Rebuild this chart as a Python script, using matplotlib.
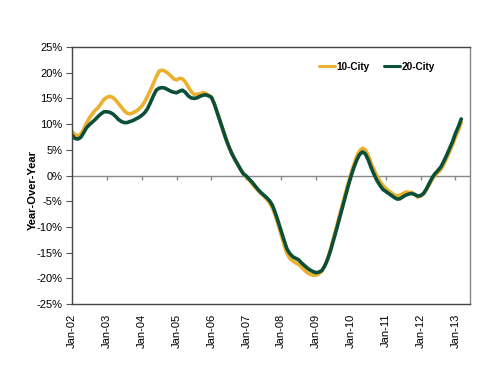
import matplotlib
matplotlib.use("Agg")
import matplotlib.pyplot as plt
import numpy as np

plt.rcParams['font.family'] = ['Liberation Sans', 'DejaVu Sans']

years = ["02", "03", "04", "05", "06", "07", "08", "09", "10", "11", "12", "13"]
tick_labels = ["Jan-" + y for y in years]

# Monthly YoY % change, Jan-2002 .. Mar-2013
city10 = [
    8.5, 8.0, 7.7, 8.0, 9.0, 10.2, 11.2, 12.0, 12.7, 13.2, 14.0, 14.8,
    15.2, 15.4, 15.2, 14.7, 14.0, 13.3, 12.6, 12.1, 12.0, 12.2, 12.5, 12.9,
    13.5, 14.3, 15.4, 16.6, 17.9, 19.2, 20.3, 20.5, 20.3, 19.9, 19.4, 18.8,
    18.6, 18.9, 18.8, 18.2, 17.3, 16.3, 15.8, 15.8, 15.9, 16.1, 16.0, 15.6,
    15.3, 14.0, 12.3, 10.6, 8.9, 7.1, 5.6, 4.3, 3.2, 2.3, 1.2, 0.4,
    -0.3, -0.9, -1.6, -2.3, -2.9, -3.5, -4.0, -4.6, -5.3, -6.3, -7.8, -9.6,
    -11.5, -13.5, -15.2, -16.1, -16.6, -17.0, -17.3, -17.8, -18.4, -18.9, -19.2, -19.4,
    -19.4, -19.1, -18.6, -17.6, -16.1, -14.3, -12.2, -10.1, -7.9, -5.8, -3.7, -1.6,
    0.3, 2.1, 3.7, 4.8, 5.3, 5.0, 3.9, 2.4, 1.1, -0.1, -1.1, -1.9,
    -2.5, -3.0, -3.4, -3.8, -4.0, -3.8, -3.5, -3.2, -3.3, -3.3, -3.7, -4.2,
    -4.0, -3.6, -2.8, -1.8, -0.7, 0.0, 0.6, 1.2, 2.2, 3.4, 4.7, 6.0,
    7.5, 8.8, 10.3,
]
city20 = [
    7.9, 7.2, 7.1, 7.4, 8.3, 9.3, 9.9, 10.4, 10.9, 11.5, 12.0, 12.4,
    12.4, 12.3, 12.0, 11.5, 10.9, 10.5, 10.3, 10.3, 10.5, 10.7, 11.0, 11.3,
    11.7, 12.2, 13.0, 14.2, 15.5, 16.6, 17.0, 17.1, 17.0, 16.7, 16.4, 16.2,
    16.1, 16.4, 16.6, 16.2, 15.5, 15.1, 15.0, 15.1, 15.4, 15.6, 15.7, 15.5,
    15.2, 13.9, 12.2, 10.5, 8.8, 7.1, 5.6, 4.3, 3.2, 2.2, 1.2, 0.3,
    -0.1, -0.7, -1.3, -2.0, -2.7, -3.3, -3.8, -4.3, -4.9, -5.8, -7.3, -9.0,
    -10.8, -12.6, -14.3, -15.2, -15.8, -16.1, -16.4, -17.0, -17.5, -18.0, -18.4, -18.7,
    -18.9, -18.8, -18.5, -17.6, -16.3, -14.6, -12.6, -10.6, -8.5, -6.4, -4.3, -2.2,
    -0.2, 1.5, 3.0, 4.1, 4.6, 4.2, 3.0, 1.5, 0.2, -1.0, -1.9, -2.7,
    -3.1, -3.5, -3.9, -4.3, -4.6, -4.5, -4.1, -3.8, -3.6, -3.5, -3.7, -4.0,
    -3.9, -3.5, -2.6, -1.5, -0.4, 0.4, 1.0, 1.7, 2.8, 4.0, 5.3, 6.6,
    8.2, 9.5, 11.0,
]

yellow = '#EBB02E'
green = '#0B4F38'

fig = plt.figure(figsize=(5.0, 3.86), dpi=100)
ax = fig.add_axes([0.144, 0.2124, 0.796, 0.6658])

x = np.arange(len(city10))
ax.plot(x, city10, color=yellow, lw=2.6, label='10-City', solid_capstyle='round')
ax.plot(x, city20, color=green, lw=2.6, label='20-City', solid_capstyle='round')

ax.set_ylim(-25, 25)
ax.set_xlim(0, 137)
ax.set_yticks(np.arange(-25, 26, 5))
ax.set_yticklabels([f"{v}%" for v in range(-25, 26, 5)], fontsize=8)
ax.tick_params(axis='y', length=4, width=0.8, color='#555555', pad=3)

tick_pos = np.arange(0, len(city10), 12)
ax.set_xticks(tick_pos)
ax.set_xticklabels(tick_labels, rotation=90, fontsize=8)
ax.tick_params(axis='x', length=0, pad=7)

# zero axis line with tick marks
ax.axhline(0, color='#888888', lw=1.0, zorder=1)
ax.vlines(tick_pos[1:], -0.8, 0, color='#888888', lw=1.0, zorder=1)

for s in ['left', 'bottom', 'top']:
    ax.spines[s].set_color('#444444')
    ax.spines[s].set_linewidth(1.0)
ax.spines['right'].set_color('#888888')
ax.spines['right'].set_linewidth(1.0)

leg = ax.legend(loc='center right', bbox_to_anchor=(0.912, 0.923), ncol=2, frameon=False,
                handlelength=1.6, handletextpad=0.15, columnspacing=1.4,
                borderaxespad=0, borderpad=0,
                prop={'weight': 'bold', 'size': 7.2})
for line in leg.get_lines():
    line.set_linewidth(2.2)

fig.text(33 / 500, 1 - 190 / 386, 'Year-Over-Year', rotation=90, fontsize=8,
         fontweight='bold', ha='center', va='center')

fig.savefig('out.png', dpi=100)
